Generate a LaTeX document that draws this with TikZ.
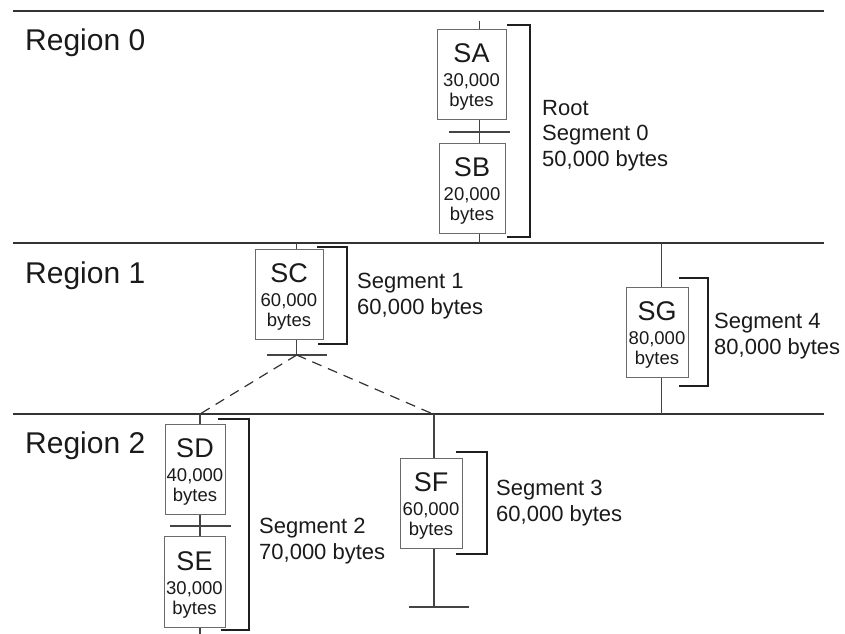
\documentclass[tikz,border=0pt]{standalone}
\usepackage{fontspec}
\setmainfont{Liberation Sans}
\definecolor{linegray}{HTML}{333333}
\definecolor{vgray}{HTML}{444444}
\definecolor{boxgray}{HTML}{6A6A6A}
\definecolor{txt}{HTML}{1A1A1A}
\newcommand{\boxhead}[1]{{\fontsize{27}{27}\selectfont\rule{0pt}{25pt}#1}}
\begin{document}
\begin{tikzpicture}[x=1pt,y=-1pt,
  rline/.style={draw=linegray, line width=1.4pt},
  vline/.style={draw=vgray, line width=1.1pt},
  tick/.style={draw=vgray, line width=1.1pt},
  brk/.style={draw=black!88, line width=1.6pt},
  dashlink/.style={draw=linegray, line width=1.2pt, dash pattern=on 10pt off 7pt},
  seg/.style={draw=boxgray, line width=1pt, inner sep=0pt, align=center, text=txt,
              font=\fontsize{18.5}{20}\selectfont},
  lbl/.style={anchor=north west, inner sep=0pt, align=left, text=txt,
              font=\fontsize{22}{25.5}\selectfont},
  reg/.style={anchor=west, inner sep=0pt, text=txt, font=\fontsize{30}{36}\selectfont}]
\useasboundingbox (0,0) rectangle (845,633);

% region separator lines
\coordinate (L0a) at (13,11);  \coordinate (L0b) at (824,11);
\coordinate (L1a) at (13,243); \coordinate (L1b) at (824,243);
\coordinate (L2a) at (13,414); \coordinate (L2b) at (824,414);
\draw[rline] (L0a) -- (L0b);
\draw[rline] (L1a) -- (L1b);
\draw[rline] (L2a) -- (L2b);

% region labels
\node[reg] (r0) at (25,43) {Region 0};
\node[reg] (r1) at (25,276) {Region 1};
\node[reg] (r2) at (25,446) {Region 2};

% segment boxes
\node[seg, minimum width=69pt, minimum height=90pt] (SA) at (471.5,74)
  {\boxhead{SA}\\[4pt]30,000\\bytes};
\node[seg, minimum width=66pt, minimum height=90pt] (SB) at (472,188)
  {\boxhead{SB}\\[4pt]20,000\\bytes};
\node[seg, minimum width=68pt, minimum height=90pt] (SC) at (289,294)
  {\boxhead{SC}\\[4pt]60,000\\bytes};
\node[seg, minimum width=62pt, minimum height=90pt] (SG) at (657,332)
  {\boxhead{SG}\\[4pt]80,000\\bytes};
\node[seg, minimum width=60pt, minimum height=90pt] (SD) at (195,469)
  {\boxhead{SD}\\[4pt]40,000\\bytes};
\node[seg, minimum width=61pt, minimum height=91pt] (SE) at (194.5,581.5)
  {\boxhead{SE}\\[4pt]30,000\\bytes};
\node[seg, minimum width=62pt, minimum height=90pt] (SF) at (431,503)
  {\boxhead{SF}\\[4pt]60,000\\bytes};

% stem x positions
\coordinate (xA) at (479.3,0);
\coordinate (xC) at (296.7,0);
\coordinate (xG) at (661.7,0);
\coordinate (xD) at (200,0);
\coordinate (xF) at (434,0);

% region 0 stem
\coordinate (topA) at (479.3,21);
\coordinate (tABl) at (449,132); \coordinate (tABr) at (510,132);
\draw[vline] (topA) -- (SA.north -| xA);
\draw[vline] (SA.south -| xA) -- (SB.north -| xA);
\draw[tick] (tABl) -- (tABr);
\draw[vline] (SB.south -| xA) -- (L1a -| xA);

% region 1 stems
\coordinate (tC) at (296.7,355);
\coordinate (tCl) at (267,355); \coordinate (tCr) at (327,355);
\draw[vline] (L1a -| xC) -- (SC.north -| xC);
\draw[vline] (SC.south -| xC) -- (tC);
\draw[tick] (tCl) -- (tCr);
\draw[vline] (L1a -| xG) -- (SG.north -| xG);
\draw[vline] (SG.south -| xG) -- (L2a -| xG);

% dashed links
\coordinate (dD) at (200,414);
\coordinate (dF) at (433,414);
\draw[dashlink] (tC) -- (dD);
\draw[dashlink] (tC) -- (dF);

% region 2 stems
\coordinate (tDEl) at (170,526); \coordinate (tDEr) at (231,526);
\coordinate (botD) at (200,634);
\draw[vline] (L2a -| xD) -- (SD.north -| xD);
\draw[vline] (SD.south -| xD) -- (SE.north -| xD);
\draw[tick] (tDEl) -- (tDEr);
\draw[vline] (SE.south -| xD) -- (botD);
\coordinate (tF) at (434,607);
\coordinate (tFl) at (409,607); \coordinate (tFr) at (469,607);
\draw[vline] (L2a -| xF) -- (SF.north -| xF);
\draw[vline] (SF.south -| xF) -- (tF);
\draw[tick] (tFl) -- (tFr);

% brackets
\coordinate (b0a) at (507,25);  \coordinate (b0b) at (530,25);
\coordinate (b0c) at (530,237); \coordinate (b0d) at (507,237);
\draw[brk] (b0a) -- (b0b) -- (b0c) -- (b0d);
\coordinate (b1a) at (317,247); \coordinate (b1b) at (347,247);
\coordinate (b1c) at (347,344); \coordinate (b1d) at (318,344);
\draw[brk] (b1a) -- (b1b) -- (b1c) -- (b1d);
\coordinate (b4a) at (679,278); \coordinate (b4b) at (708,278);
\coordinate (b4c) at (708,386); \coordinate (b4d) at (679,386);
\draw[brk] (b4a) -- (b4b) -- (b4c) -- (b4d);
\coordinate (b2a) at (218,419); \coordinate (b2b) at (249,419);
\coordinate (b2c) at (249,630); \coordinate (b2d) at (221,630);
\draw[brk] (b2a) -- (b2b) -- (b2c) -- (b2d);
\coordinate (b3a) at (456,452); \coordinate (b3b) at (487,452);
\coordinate (b3c) at (487,554); \coordinate (b3d) at (456,554);
\draw[brk] (b3a) -- (b3b) -- (b3c) -- (b3d);

% segment labels
\node[lbl] (s0) at (542,100) {Root\\Segment 0\\50,000 bytes};
\node[lbl] (s1) at (357,273) {Segment 1\\60,000 bytes};
\node[lbl] (s4) at (714,313) {Segment 4\\80,000 bytes};
\node[lbl] (s2) at (259,518) {Segment 2\\70,000 bytes};
\node[lbl] (s3) at (496,480) {Segment 3\\60,000 bytes};
\end{tikzpicture}
\end{document}
